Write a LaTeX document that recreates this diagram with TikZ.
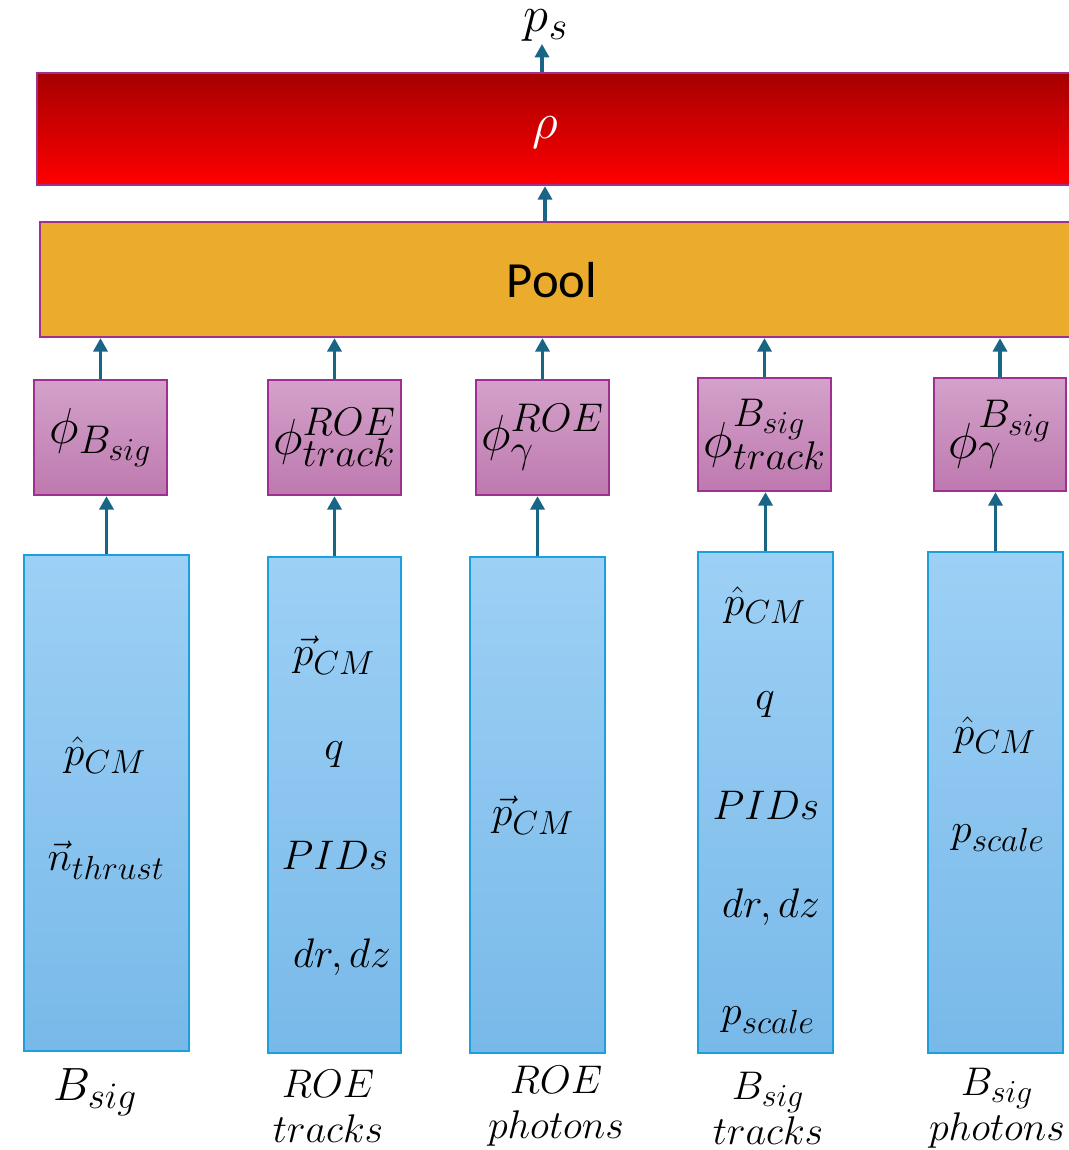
\documentclass[tikz,border=0pt]{standalone}
\usepackage{fix-cm}
\usepackage{fontspec}
\newfontfamily\poolfont{Carlito}
\usetikzlibrary{arrows.meta}
% large sub- and superscripts
\DeclareMathSizes{30}{30}{24}{19}
\DeclareMathSizes{31}{31}{25}{20}
\DeclareMathSizes{35}{35}{28}{22}
\DeclareMathSizes{38}{38}{30}{24}
\definecolor{arrowblue}{HTML}{186585}
\definecolor{inEdge}{HTML}{1CA0DC}
\definecolor{inTop}{HTML}{9DD0F5}
\definecolor{inBot}{HTML}{78B9E9}
\definecolor{phiEdge}{HTML}{A0308F}
\definecolor{phiTop}{HTML}{D3A2CA}
\definecolor{phiBot}{HTML}{BE79AF}
\definecolor{poolFill}{HTML}{EBAB2C}
\definecolor{rhoTop}{HTML}{A50000}
\definecolor{rhoBot}{HTML}{FF0000}
\tikzset{
  arr/.style={draw=arrowblue, line width=2.4pt, -{Triangle[width=10.5pt,length=10pt]}},
  inbox/.style={draw=inEdge, line width=1.6pt, top color=inTop, bottom color=inBot, inner sep=0pt},
  phibox/.style={draw=phiEdge, line width=1.8pt, top color=phiTop, bottom color=phiBot, inner sep=0pt,
    minimum width=99.75pt, font=\fontsize{38}{42}\selectfont},
  wide/.style={draw=phiEdge, line width=1.8pt, inner sep=0pt},
  feat/.style={font=\fontsize{31}{34}\selectfont, inner sep=0pt},
  colname/.style={font=\fontsize{30}{34}\selectfont, align=center, inner sep=0pt},
}
\begin{document}
\begin{tikzpicture}[x=0.75pt,y=-0.75pt]
\useasboundingbox (0,0) rectangle (1069,1150);
\begin{scope}
\clip (0,0) rectangle (1069,1150);

% output layer and pooling layer
\node[wide, top color=rhoTop, bottom color=rhoBot, minimum width=782.25pt, minimum height=84pt] (rho) at (558.5,129) {};
\node[wide, fill=poolFill, minimum width=780pt, minimum height=86.25pt] (pool) at (560,279.5) {};
\node[font=\fontsize{38}{42}\selectfont, text=white, inner sep=0pt] (rhotext) at (545,133) {$\rho$};
\node[font=\fontsize{38}{42}\selectfont\poolfont, inner sep=0pt] (pooltext) at (552,280) {Pool};
\node[font=\fontsize{38}{42}\selectfont, inner sep=0pt] (ps) at (546,26) {$p_s$};
\coordinate (psfoot) at (542,44);

% per-collection embedding networks
\node[phibox, minimum height=86.25pt] (phi1) at (100.5,437.5) {$\phi_{B_{sig}}$};
\node[phibox, minimum height=86.25pt] (phi2) at (334.5,437.5) {$\phi^{ROE}_{track}$};
\node[phibox, minimum height=86.25pt] (phi3) at (542.5,437.5) {$\phi^{ROE}_{\gamma}$};
\node[phibox, minimum height=84.75pt] (phi4) at (764.5,434.5) {$\phi^{B_{sig}}_{track}$};
\node[phibox, minimum height=84.75pt, minimum width=99pt] (phi5) at (1000,434.5) {$\phi^{B_{sig}}_{\gamma}$};

% input feature columns
\node[inbox, minimum width=123.75pt, minimum height=372pt] (b1) at (106.5,803) {};
\node[inbox, minimum width=99.75pt, minimum height=372pt] (b2) at (334.5,805) {};
\node[inbox, minimum width=101.25pt, minimum height=372pt] (b3) at (537.5,805) {};
\node[inbox, minimum width=101.25pt, minimum height=375.75pt] (b4) at (765.5,802.5) {};
\node[inbox, minimum width=101.25pt, minimum height=375.75pt] (b5) at (995.5,802.5) {};

% features
\node[feat] (f11) at (105,755) {$\hat{p}_{CM}$};
\node[feat] (f12) at (106,860) {$\vec{n}_{thrust}$};

\node[feat] (f21) at (334,655) {$\vec{p}_{CM}$};
\node[feat] (f22) at (334,755) {$q$};
\node[feat] (f23) at (335,855) {$PIDs$};
\node[feat] (f24) at (342,957) {$dr,dz$};

\node[feat] (f31) at (533,815) {$\vec{p}_{CM}$};

\node[feat] (f41) at (765,605) {$\hat{p}_{CM}$};
\node[feat] (f42) at (765,705) {$q$};
\node[feat] (f43) at (766,805) {$PIDs$};
\node[feat] (f44) at (771,907) {$dr,dz$};
\node[feat] (f45) at (768,1020) {$p_{scale}$};

\node[feat] (f51) at (995,735) {$\hat{p}_{CM}$};
\node[feat] (f52) at (998,838) {$p_{scale}$};

% collection names
\node[colname, font=\fontsize{35}{38}\selectfont] (c1) at (95,1092) {$B_{sig}$};
\node[colname] (c2) at (328,1106) {$ROE$\\$tracks$};
\node[colname] (c3) at (556,1106) {$ROE$\\$photons$};
\node[colname] (c4) at (768,1108) {$B_{sig}$\\$tracks$};
\node[colname] (c5) at (997,1108) {$B_{sig}$\\$photons$};

% data flow
\draw[arr] (psfoot |- rho.north) -- (psfoot);
\draw[arr] (rhotext |- pool.north) -- (rhotext |- rho.south);
\foreach \i in {1,...,5} {
  \draw[arr] (phi\i.north) -- (phi\i.north |- pool.south);
  \draw[arr] (b\i.north) -- (b\i.north |- phi\i.south);
}
\end{scope}
\end{tikzpicture}
\end{document}
